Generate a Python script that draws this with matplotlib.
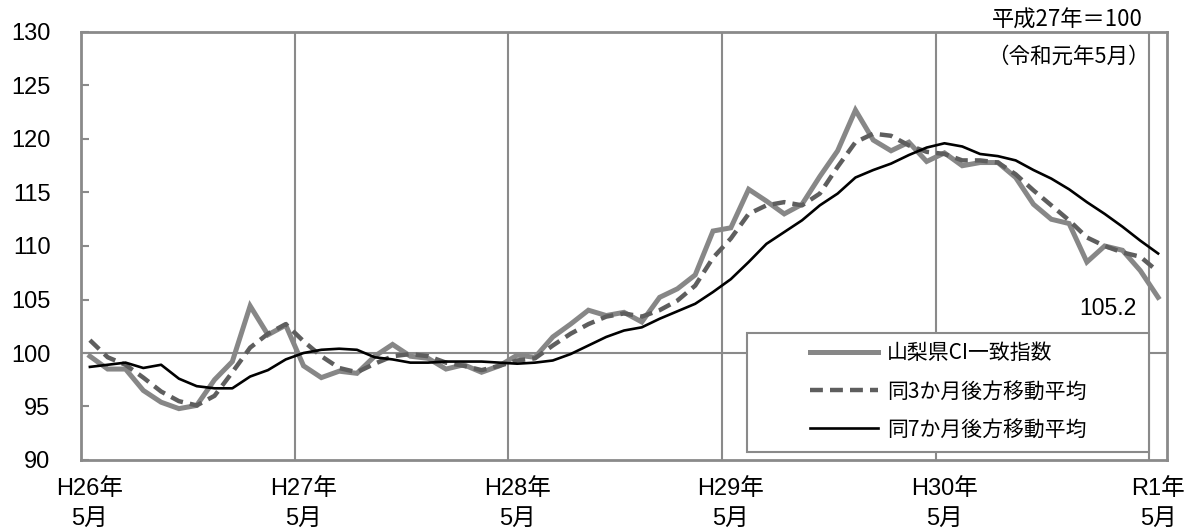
import matplotlib.pyplot as plt
from matplotlib.patches import Rectangle
import numpy as np

plt.rcParams['font.family'] = ['Liberation Sans', 'Noto Sans CJK JP']

# monthly values, H26.5 (2014-05) .. R1.5 (2019-05)
ci = [99.7, 98.5, 98.5, 96.5, 95.4, 94.8, 95.1, 97.5, 99.2, 104.4, 101.7, 102.6,
      98.8, 97.7, 98.3, 98.1, 99.7, 100.8, 99.7, 99.5, 98.5, 98.9, 98.2, 98.8,
      99.8, 99.6, 101.5, 102.7, 104.0, 103.5, 103.8, 102.9, 105.2, 106.0, 107.3, 111.4,
      111.7, 115.3, 114.2, 113.0, 113.9, 116.5, 118.9, 122.7, 119.9, 118.9, 119.7, 117.9,
      118.7, 117.5, 117.8, 117.8, 116.4, 113.9, 112.5, 112.1, 108.5, 110.0, 109.6, 107.7,
      105.2]
ma3 = [101.2, 99.6, 98.9, 97.7, 96.4, 95.5, 95.1, 96.0, 98.2, 100.5, 101.8, 102.7,
       101.1, 99.7, 98.6, 98.2, 99.0, 99.7, 99.9, 99.7, 99.1, 98.8, 98.4, 98.8,
       99.3, 99.5, 100.7, 101.8, 102.7, 103.4, 103.7, 103.4, 104.0, 104.9, 106.3, 108.9,
       110.7, 113.0, 113.8, 114.1, 113.8, 114.9, 117.4, 119.7, 120.5, 120.3, 119.4, 118.8,
       118.6, 118.0, 118.0, 117.8, 116.7, 115.2, 113.8, 112.4, 110.8, 110.0, 109.4, 109.0,
       107.6]
ma7 = [98.7, 98.9, 99.1, 98.6, 98.9, 97.6, 96.9, 96.7, 96.7, 97.8, 98.4, 99.4,
       100.0, 100.3, 100.4, 100.3, 99.6, 99.4, 99.1, 99.1, 99.2, 99.2, 99.2, 99.1,
       99.0, 99.1, 99.3, 99.9, 100.7, 101.5, 102.1, 102.4, 103.2, 103.9, 104.6, 105.7,
       106.9, 108.5, 110.2, 111.3, 112.4, 113.8, 114.9, 116.4, 117.1, 117.7, 118.5, 119.2,
       119.6, 119.3, 118.6, 118.4, 118.0, 117.1, 116.3, 115.3, 114.1, 113.0, 111.8, 110.5,
       109.3]
year_labels = ['H26年\n5月', 'H27年\n5月', 'H28年\n5月', 'H29年\n5月', 'H30年\n5月', 'R1年\n5月']
series_names = ['山梨県CI一致指数', '同3か月後方移動平均', '同7か月後方移動平均']

GRID = '#8a8a8a'

fig = plt.figure(figsize=(11.94, 5.30), dpi=100)
ax = fig.add_axes([81 / 1194, 1 - 460 / 530, 1086 / 1194, 428 / 530])

x = np.arange(len(ci)) + 0.5
ax.set_xlim(0, len(ci))
ax.set_ylim(90, 130)

for k in range(12, len(ci), 12):
    ax.axvline(k, color=GRID, lw=1.5, zorder=1)
ax.axhline(100, color=GRID, lw=1.5, zorder=1)

ax.plot(x, ci, color='#878787', lw=3.6, solid_joinstyle='miter', label=series_names[0], zorder=3)
ax.plot(x, ma3, color='#5e5e5e', lw=3.2, dashes=(2.9, 1.6), label=series_names[1], zorder=4)
ax.plot(x, ma7, color='black', lw=1.9, label=series_names[2], zorder=5)

ax.annotate(f'{ci[-1]:.1f}', (x[-1], ci[-1]), xytext=(-36, -8), textcoords='offset points',
            ha='center', va='center', fontsize=16.5)

ax.set_yticks(np.arange(90, 131, 5))
ax.tick_params(axis='y', direction='in', length=6, width=1.5, color=GRID, pad=22, labelsize=17)
ax.set_xticks(x[::12], year_labels)
ax.tick_params(axis='x', length=0, pad=13, labelsize=17)
for lab in ax.get_xticklabels():
    lab.set_linespacing(1.45)

for s in ax.spines.values():
    s.set_color(GRID)
    s.set_linewidth(2)

# legend box
ax.add_patch(Rectangle((0.613, 0.019), 0.370, 0.278, transform=ax.transAxes,
                       facecolor='white', edgecolor=GRID, lw=1.5, zorder=6))
leg = ax.legend(loc='center left', bbox_to_anchor=(0.671, 0.160), frameon=False,
                prop={'family': 'Noto Sans CJK JP', 'size': 15}, handlelength=3.3,
                handletextpad=0.4, labelspacing=0.78, borderpad=0, borderaxespad=0)
leg.set_zorder(7)

ax.text(0.978, 1.028, '平成27年＝100', transform=ax.transAxes, ha='right', va='center',
        fontsize=16, family='Noto Sans CJK JP')
ax.text(0.984, 0.9416, '（令和元年5月）', transform=ax.transAxes, ha='right', va='center',
        fontsize=15.5, family='Noto Sans CJK JP')

fig.savefig('out.png', dpi=100)
